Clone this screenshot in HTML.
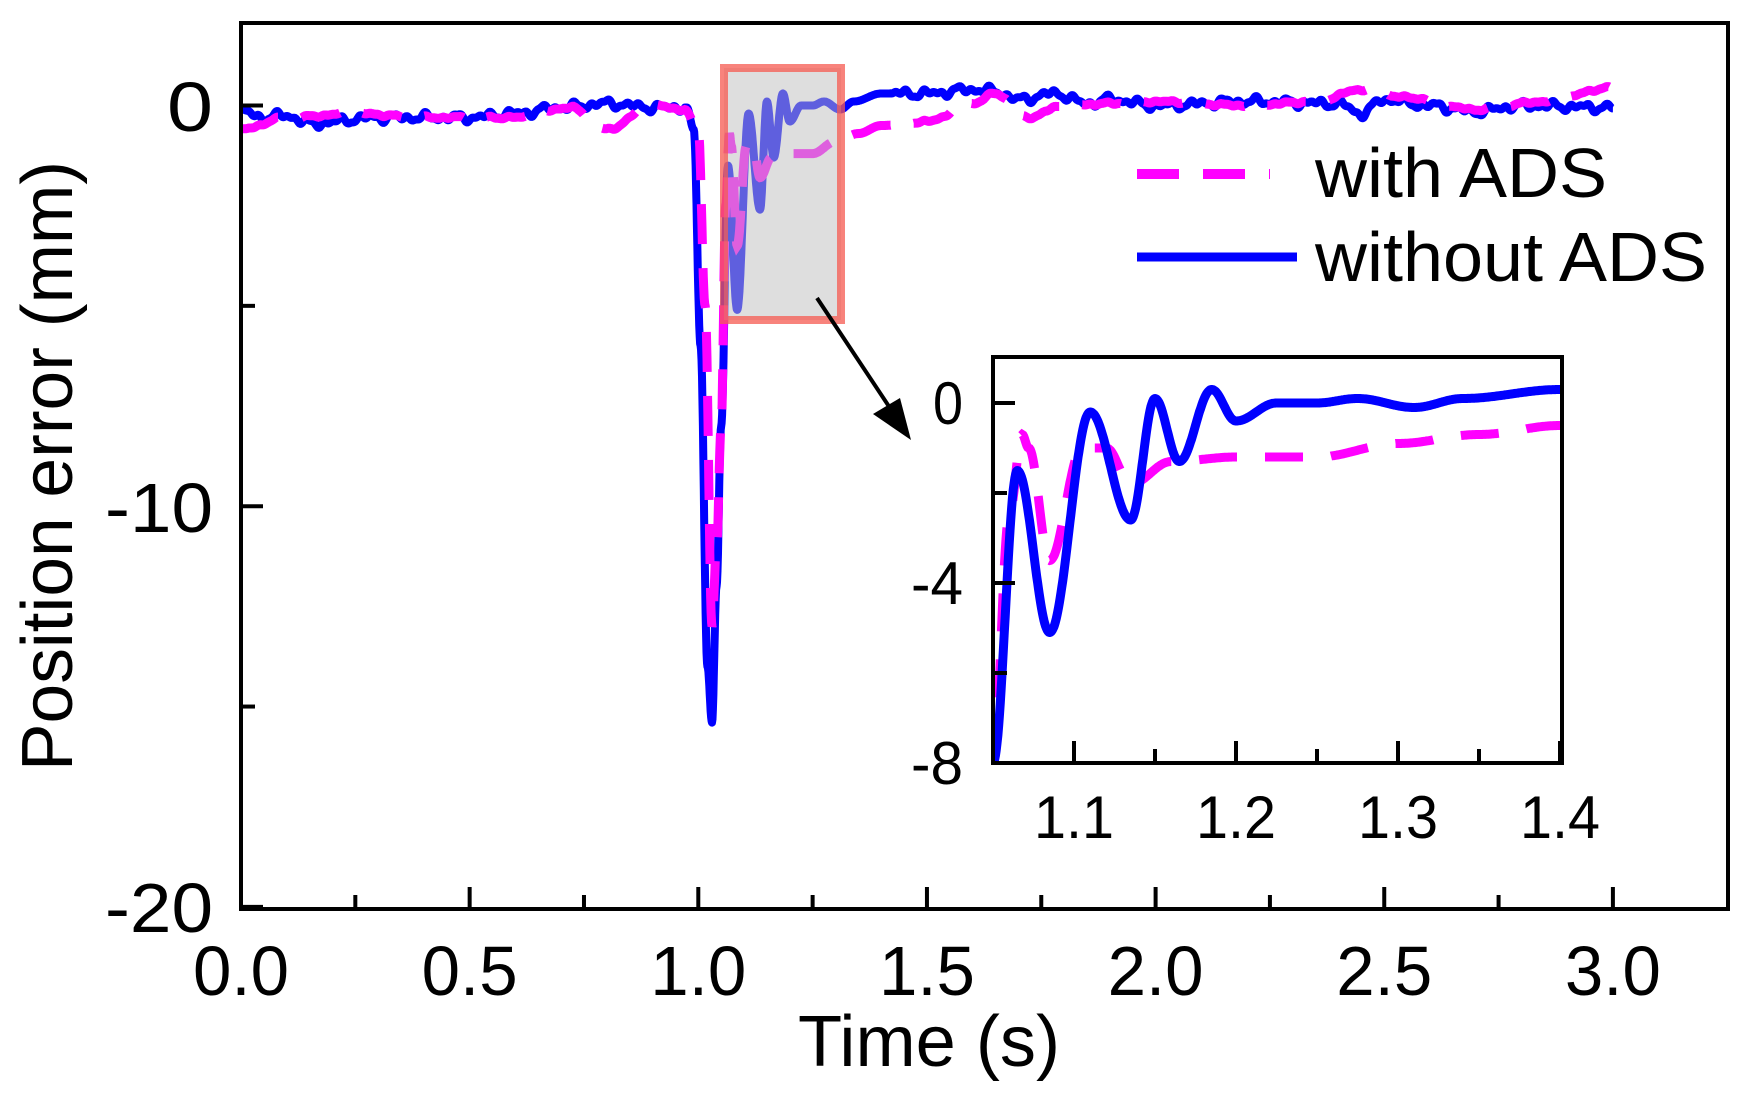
<!DOCTYPE html>
<html><head><meta charset="utf-8">
<style>html,body{margin:0;padding:0;background:#fff}svg{display:block}</style></head>
<body>
<svg id="s" width="1761" height="1096" xmlns="http://www.w3.org/2000/svg" font-family="Liberation Sans, sans-serif">
<defs>
<clipPath id="cm"><rect x="241" y="23" width="1487" height="886"/></clipPath>
<clipPath id="ci"><rect x="993" y="357" width="569" height="406"/></clipPath>
</defs>
<rect width="1761" height="1096" fill="#fff"/>
<g id="mainlines" clip-path="url(#cm)"></g>
<!-- zoom box -->
<rect x="724" y="68" width="117" height="252" fill="rgba(190,190,190,0.5)" stroke="rgba(245,90,80,0.75)" stroke-width="8"/>
<!-- main frame -->
<rect x="241" y="23" width="1487" height="886" fill="none" stroke="#000" stroke-width="4"/>
<g id="mticks" stroke="#000" stroke-width="4"></g>
<g font-size="70" fill="#000" text-anchor="end">
<text x="213" y="131" textLength="46" lengthAdjust="spacingAndGlyphs">0</text>
<text x="213" y="532" textLength="108" lengthAdjust="spacingAndGlyphs">-10</text>
<text x="213" y="932" textLength="108" lengthAdjust="spacingAndGlyphs">-20</text>
</g>
<g font-size="70" fill="#000" text-anchor="middle" id="xl"></g>
<text x="929" y="1066" font-size="72" text-anchor="middle" textLength="262" lengthAdjust="spacingAndGlyphs">Time (s)</text>
<text transform="translate(72,466) rotate(-90)" font-size="72" text-anchor="middle" textLength="610" lengthAdjust="spacingAndGlyphs">Position error (mm)</text>
<!-- legend -->
<line x1="1137" y1="174" x2="1270" y2="174" stroke="#ff00ff" stroke-width="10" stroke-dasharray="42 24"/>
<text x="1315" y="197" font-size="70" textLength="292" lengthAdjust="spacingAndGlyphs">with ADS</text>
<line x1="1137" y1="257" x2="1297" y2="257" stroke="#0000ff" stroke-width="9"/>
<text x="1315" y="281" font-size="70" textLength="392" lengthAdjust="spacingAndGlyphs">without ADS</text>
<!-- arrow -->
<line x1="817" y1="298" x2="898" y2="420" stroke="#000" stroke-width="4"/>
<polygon points="911,440 873,414 900,398" fill="#000"/>
<!-- inset -->
<rect x="993" y="357" width="569" height="406" fill="#fff"/>
<g id="insetlines" clip-path="url(#ci)"></g>
<rect x="993" y="357" width="569" height="406" fill="none" stroke="#000" stroke-width="4"/>
<g id="iticks" stroke="#000" stroke-width="4"></g>
<g font-size="60" fill="#000" text-anchor="end">
<text x="963" y="424" textLength="30" lengthAdjust="spacingAndGlyphs">0</text>
<text x="963" y="604" textLength="52" lengthAdjust="spacingAndGlyphs">-4</text>
<text x="963" y="784" textLength="52" lengthAdjust="spacingAndGlyphs">-8</text>
</g>
<g font-size="60" fill="#000" text-anchor="middle" id="ixl"></g>
</svg>
<script>
const NS="http://www.w3.org/2000/svg";
function el(p,t,a,txt){const e=document.createElementNS(NS,t);for(const k in a)e.setAttribute(k,a[k]);if(txt)e.textContent=txt;p.appendChild(e);return e;}
const X=t=>241+457.3*t, Y=v=>105.5-40.07*v;
const Xi=t=>993+1620*(t-1.05), Yi=v=>403-45*v;
function interp(k,t){for(let i=0;i<k.length-1;i++){if(t>=k[i][0]&&t<=k[i+1][0]){const a=k[i],b=k[i+1];const u=(t-a[0])/(b[0]-a[0]);const w=(1-Math.cos(Math.PI*u))/2;return a[1]+(b[1]-a[1])*w;}}return k[k.length-1][1];}
const blueK=[[0,-0.15],[0.05,-0.3],[0.1,-0.25],[0.15,-0.45],[0.3,-0.3],[0.5,-0.3],[0.6,-0.2],[0.7,-0.05],[0.8,0.05],[0.9,-0.05],[0.975,-0.05],[0.99,-0.6],[1.005,-6],[1.02,-14],[1.03,-15.4],[1.04,-12],[1.05,-8],
[1.065,-1.5],[1.085,-5.1],[1.11,-0.2],[1.135,-2.6],[1.15,0.1],[1.165,-1.3],[1.185,0.3],[1.2,-0.4],[1.225,0],[1.25,0],[1.275,0.1],[1.31,-0.1],[1.34,0.1],[1.4,0.3],[1.5,0.3],[1.6,0.4],[1.65,0.35],[1.7,0.15],[1.78,0.3],[1.85,0.05],[1.9,0.15],[2.0,0],[2.2,0.1],[2.4,0.05],[2.45,-0.2],[2.5,0.15],[2.6,0],[2.7,-0.15],[2.8,0],[3.0,-0.05]];
const magK=[[0,-0.6],[0.1,-0.3],[0.25,-0.2],[0.4,-0.3],[0.6,-0.3],[0.72,-0.05],[0.8,-0.6],[0.9,0],[0.97,-0.1],[1.0,-0.6],[1.015,-5],[1.03,-13],[1.04,-11],[1.05,-8],
[1.06,-2.5],[1.068,-0.7],[1.072,-1],[1.085,-3.5],[1.105,-1],[1.12,-1],[1.135,-1.8],[1.16,-1.3],[1.2,-1.2],[1.25,-1.2],[1.3,-0.9],[1.35,-0.7],[1.4,-0.5],[1.5,-0.4],[1.6,0.05],[1.65,0.3],[1.72,-0.3],[1.8,0],[1.9,0.05],[2.0,0.1],[2.2,0],[2.35,0.1],[2.45,0.4],[2.55,0.2],[2.7,-0.1],[2.85,0.1],[3.0,0.45]];
function noise(t,a){if(t>0.97&&t<1.42)return 0;return a*(Math.sin(t*97)*0.6+Math.sin(t*173+1)*0.5+Math.sin(t*311+2)*0.3);}
function path(K,fx,fy,t0,t1,n,na){let d="";for(let i=0;i<=n;i++){const t=t0+(t1-t0)*i/n;const v=interp(K,t)+noise(t,na);d+=(i?"L":"M")+fx(t).toFixed(1)+" "+fy(v).toFixed(1);}return d;}
const ml=document.getElementById("mainlines");
el(ml,"path",{d:path(blueK,X,Y,0,3,3000,0.1),fill:"none",stroke:"#0000ff","stroke-width":8,"stroke-linejoin":"round"});
el(ml,"path",{d:path(magK,X,Y,0,3,3000,0.03),fill:"none",stroke:"#ff00ff","stroke-width":9,"stroke-dasharray":"40 24"});
const il=document.getElementById("insetlines");
el(il,"path",{d:path(magK,Xi,Yi,1.05,1.4,700,0),fill:"none",stroke:"#ff00ff","stroke-width":9,"stroke-dasharray":"38 28"});
el(il,"path",{d:path(blueK,Xi,Yi,1.05,1.4,700,0),fill:"none",stroke:"#0000ff","stroke-width":9,"stroke-linejoin":"round"});
const mt=document.getElementById("mticks"), xl=document.getElementById("xl");
for(let i=0;i<=12;i++){const t=i*0.25,x=X(t);const L=(i%2==0)?22:14;el(mt,"line",{x1:x,y1:909,x2:x,y2:909-L});
 if(i%2==0)el(xl,"text",{x:x,y:995,textLength:96,lengthAdjust:"spacingAndGlyphs"},t.toFixed(1));}
[0,-5,-10,-15,-20].forEach((v,i)=>{el(mt,"line",{x1:241,y1:Y(v),x2:241+(i%2==0?22:14),y2:Y(v)});});
const it=document.getElementById("iticks"), ixl=document.getElementById("ixl");
for(let i=0;i<7;i++){const t=1.1+0.05*i,x=Xi(t);const L=(i%2==0)?22:14;el(it,"line",{x1:x,y1:763,x2:x,y2:763-L});
 if(i%2==0)el(ixl,"text",{x:x,y:838,textLength:80,lengthAdjust:"spacingAndGlyphs"},t.toFixed(1));}
[0,-2,-4,-6,-8].forEach((v,i)=>{el(it,"line",{x1:993,y1:Yi(v),x2:993+(i%2==0?22:14),y2:Yi(v)});});
</script>
</body></html>
